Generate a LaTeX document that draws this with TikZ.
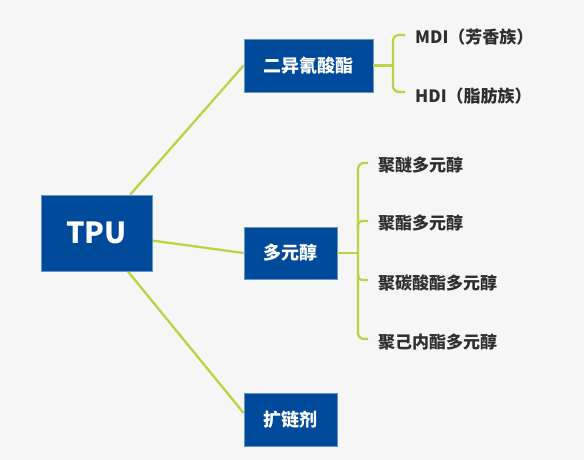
\documentclass[tikz,border=0pt]{standalone}
\usepackage{fontspec}
\setmainfont{Noto Sans CJK SC}
\usetikzlibrary{calc}
\definecolor{bg}{HTML}{F6F6F6}
\definecolor{boxblue}{HTML}{004A9C}
\definecolor{boxedge}{HTML}{6A92C8}
\definecolor{linkgreen}{RGB}{184,212,66}
\definecolor{txt}{HTML}{2E2E2E}
\tikzset{
  mainbox/.style={draw=boxedge, line width=0.8pt, fill=boxblue, text=white, font=\bfseries\fontsize{18}{20}\selectfont, inner sep=0pt},
  link/.style={draw=linkgreen, line width=2.3pt},
  leaf/.style={anchor=west, inner sep=0pt, text=txt, font=\bfseries\fontsize{17}{19}\selectfont}
}
\begin{document}
\begin{tikzpicture}[x=1pt,y=1pt]
\fill[bg] (0,0) rectangle (584,460);
\useasboundingbox (0,0) rectangle (584,460);
% boxes (placed first to name them)
\node[mainbox, minimum width=111, minimum height=76, font=\bfseries\fontsize{29}{32}\selectfont] (tpu) at (96.5,227) {TPU};
\node[mainbox, minimum width=129, minimum height=53] (diiso) at (308.5,394.5) {二异氰酸酯};
\node[mainbox, minimum width=93, minimum height=52] (poly) at (290.5,207) {多元醇};
\node[mainbox, minimum width=93, minimum height=53] (chain) at (290.5,40.5) {扩链剂};
% leaves
\node[leaf] (mdi) at (415,423) {MDI（芳香族）};
\node[leaf] (hdi) at (415,364) {HDI（脂肪族）};
\node[leaf] (p1) at (378,295) {聚醚多元醇};
\node[leaf] (p2) at (378,237) {聚酯多元醇};
\node[leaf] (p3) at (378,177) {聚碳酸酯多元醇};
\node[leaf] (p4) at (378,118) {聚己内酯多元醇};
% links from TPU
\coordinate (chainin) at ($(chain.west)+(0,6.5)$);
\draw[link] (tpu) -- (diiso.west);
\draw[link] (tpu) -- (poly.west);
\draw[link] (tpu) -- (chainin);
% redraw boxes over link ends
\node[mainbox, minimum width=111, minimum height=76, font=\bfseries\fontsize{29}{32}\selectfont] at (tpu) {TPU};
\node[mainbox, minimum width=129, minimum height=53] at (diiso) {二异氰酸酯};
\node[mainbox, minimum width=93, minimum height=53] at (chain) {扩链剂};
\node[mainbox, minimum width=93, minimum height=52] at (poly) {多元醇};
% bracket for diisocyanate
\coordinate (db) at (393,394.5);
\draw[link] (diiso.east) -- (db);
\draw[link, rounded corners=6] ($(mdi.west)+(-10,2)$) -| (db) |- ($(hdi.west)+(-10,4)$);
% bracket for polyol
\coordinate (pb) at (358,207);
\draw[link] (poly.east) -- (pb);
\draw[link, rounded corners=6] ($(p1.west)+(-10,2)$) -| (pb) |- ($(p4.west)+(-10,3)$);
\draw[link, rounded corners=4] ($(pb |- p2.west)+(0,-8)$) |- ($(p2.west)+(-10,2)$);
\draw[link, rounded corners=4] ($(pb |- p3.west)+(0,11)$) |- ($(p3.west)+(-10,3)$);
\end{tikzpicture}
\end{document}
